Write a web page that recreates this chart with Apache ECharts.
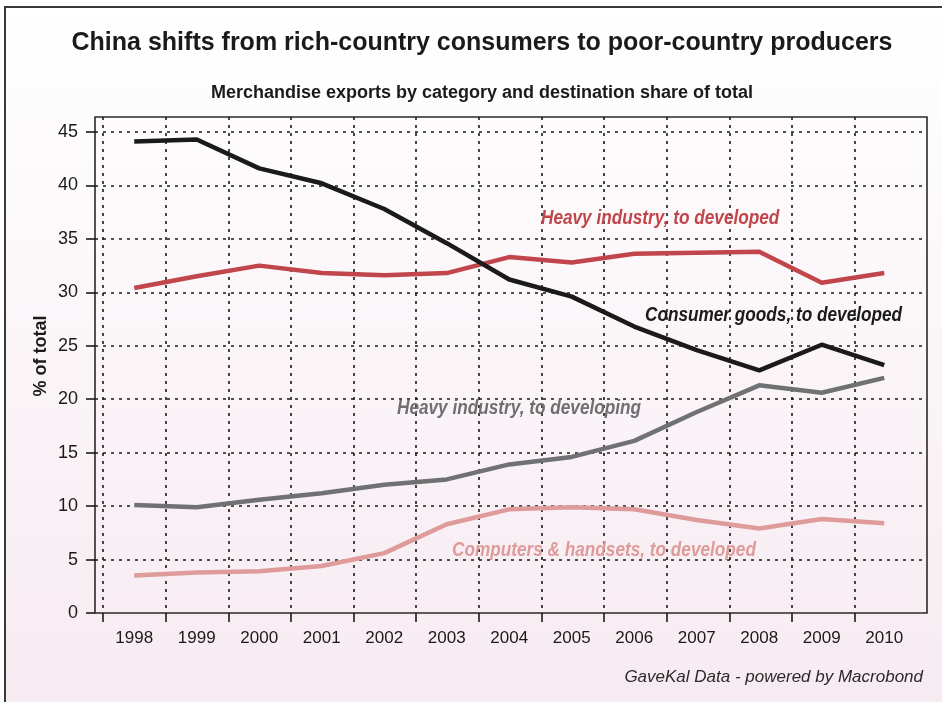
<!DOCTYPE html>
<html>
<head>
<meta charset="utf-8">
<script src="https://cdn.jsdelivr.net/npm/echarts@6/dist/echarts.min.js"></script>
<style>
html,body{margin:0;padding:0;background:#fff;}
#chart{width:942px;height:702px;}
</style>
</head>
<body>
<div id="chart"></div>
<script>
// ---- data ----
var years = ['1998','1999','2000','2001','2002','2003','2004','2005','2006','2007','2008','2009','2010'];
var consumerGoodsDeveloped = [44.1, 44.3, 41.6, 40.2, 37.8, 34.6, 31.2, 29.6, 26.8, 24.6, 22.7, 25.1, 23.2];
var heavyIndustryDeveloped = [30.4, 31.5, 32.5, 31.8, 31.6, 31.8, 33.3, 32.8, 33.6, 33.7, 33.8, 30.9, 31.8];
var heavyIndustryDeveloping = [10.1, 9.9, 10.6, 11.2, 12.0, 12.5, 13.9, 14.6, 16.1, 18.8, 21.3, 20.6, 22.0];
var computersDeveloped = [3.5, 3.8, 3.9, 4.4, 5.6, 8.3, 9.7, 9.9, 9.7, 8.7, 7.9, 8.8, 8.4];
var yTicks = [0, 5, 10, 15, 20, 25, 30, 35, 40, 45];

var FN = '"Liberation Sans", Arial, sans-serif';
var chart = echarts.init(document.getElementById('chart'), null, {renderer: 'canvas'});

var dash = {color: '#1a1a1a', width: 1.6, type: [3, 5]};
function lineSeries(name, data, color) {
  return {
    name: name, type: 'line', xAxisIndex: 2, yAxisIndex: 2, data: data,
    symbol: 'none', smooth: false,
    lineStyle: {color: color, width: 4.5, join: 'round'},
    z: 5
  };
}
function note(text, x, y, color) {
  return {type: 'text', x: x, y: y, scaleX: 0.86, silent: true, z: 6,
    style: {text: text, x: 0, y: 0, fontFamily: FN, fontWeight: 'bold', fontStyle: 'italic', fontSize: 20,
      fill: color, textAlign: 'left', textVerticalAlign: 'middle'}};
}

var option = {
  backgroundColor: '#ffffff',
  animation: false,
  title: [
    {text: 'China shifts from rich-country consumers to poor-country producers', left: 477, top: 26, textAlign: 'center',
     textStyle: {fontFamily: FN, fontWeight: 'bold', fontSize: 25, color: '#1a1a1a'}},
    {text: 'Merchandise exports by category and destination share of total', left: 477, top: 79, textAlign: 'center',
     textStyle: {fontFamily: FN, fontWeight: 'bold', fontSize: 18, color: '#1a1a1a'}}
  ],
  graphic: [
    {type: 'rect', z: -10, silent: true, shape: {x: 5, y: 7, width: 960, height: 720},
     style: {fill: new echarts.graphic.LinearGradient(0, 0, 0, 1, [
       {offset: 0, color: '#ffffff'}, {offset: 1, color: '#f6eaf1'}]), stroke: '#3a3a3a', lineWidth: 2}},
    {type: 'text', x: 41, y: 356, rotation: Math.PI / 2, silent: true,
     style: {text: '% of total', fontFamily: FN, fontWeight: 'bold', fontSize: 18, fill: '#1a1a1a', textAlign: 'center', textVerticalAlign: 'middle'}},
    note('Heavy industry, to developed', 541, 218, '#c0464b'),
    note('Consumer goods, to developed', 645, 315, '#1a1a1a'),
    note('Heavy industry, to developing', 397, 408, '#6e6f71'),
    note('Computers & handsets, to developed', 452, 550, '#df9a9a'),
    {type: 'text', right: 19, top: 669, silent: true,
     style: {text: 'GaveKal Data - powered by Macrobond', fontFamily: FN, fontStyle: 'italic', fontSize: 17, fill: '#2a2a2a'}}
  ],
  grid: [
    {left: 95, right: 15, top: 117, bottom: 89, show: true, borderColor: '#2a2a2a', borderWidth: 1.6, backgroundColor: 'transparent'},
    {left: 95, right: 15, top: 132, bottom: 89},
    {left: 103, right: 26.5, top: 117, bottom: 89},
    {left: 103, right: 87.5, top: 117, bottom: 89}
  ],
  xAxis: [
    {gridIndex: 0, type: 'value', show: false},
    {gridIndex: 1, type: 'value', show: false},
    {gridIndex: 2, type: 'category', data: years, boundaryGap: true, position: 'bottom',
     axisLine: {show: false},
     axisTick: {show: false},
     axisLabel: {interval: 0, margin: 17, fontFamily: FN, fontSize: 17, color: '#1a1a1a'},
     splitLine: {show: false}},
    {gridIndex: 3, type: 'value', min: 0, max: years.length - 1, interval: 1, position: 'bottom',
     axisLine: {show: false},
     axisTick: {show: true, length: 9, inside: false, lineStyle: {color: '#1a1a1a', width: 1.6}},
     axisLabel: {show: false},
     splitLine: {show: true, lineStyle: dash}}
  ],
  yAxis: [
    {gridIndex: 0, type: 'value', show: false},
    {gridIndex: 1, type: 'value', min: yTicks[0], max: yTicks[yTicks.length - 1], interval: 5,
     axisLine: {show: false},
     axisTick: {show: true, length: 9, lineStyle: {color: '#1a1a1a', width: 1.6}},
     axisLabel: {margin: 17, fontFamily: FN, fontSize: 18, color: '#1a1a1a'},
     splitLine: {show: true, showMinLine: false, lineStyle: dash}},
    {gridIndex: 2, type: 'value', show: false, min: 0, max: 45 * 496 / 481},
    {gridIndex: 3, type: 'value', show: false, min: 0, max: 1}
  ],
  series: [
    lineSeries('Heavy industry, to developed', heavyIndustryDeveloped, '#c0464b'),
    lineSeries('Computers & handsets, to developed', computersDeveloped, '#df9a9a'),
    lineSeries('Heavy industry, to developing', heavyIndustryDeveloping, '#707173'),
    lineSeries('Consumer goods, to developed', consumerGoodsDeveloped, '#1a1a1a')
  ]
};
chart.setOption(option);
</script>
</body>
</html>
